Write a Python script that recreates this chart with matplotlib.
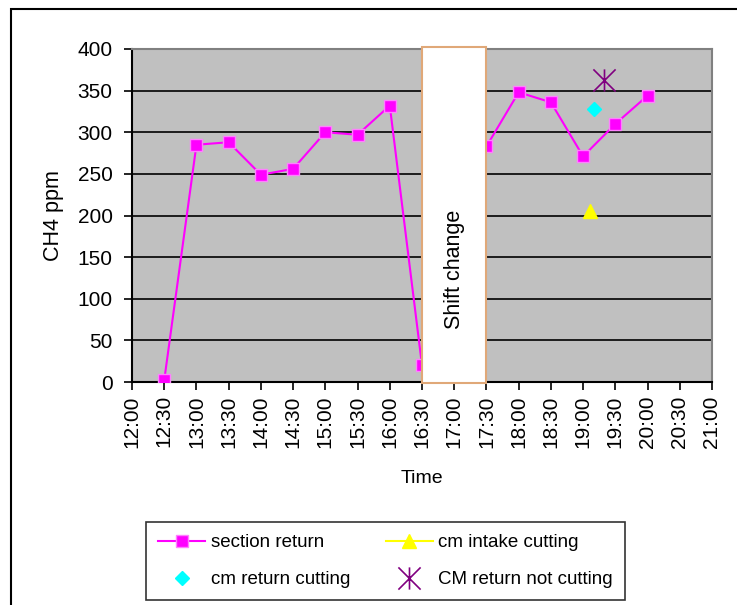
import numpy as np
import matplotlib.pyplot as plt
from matplotlib.path import Path
from matplotlib.patches import Rectangle

plt.rcParams['font.family'] = ['Liberation Sans', 'DejaVu Sans']

# methane readings (ppm) against clock time
section_times = ["12:30", "13:00", "13:30", "14:00", "14:30", "15:00", "15:30", "16:00",
                 "16:30", "17:30", "18:00", "18:30", "19:00", "19:30", "20:00"]
section_ch4 = [2, 285, 288, 249, 256, 300, 297, 332, 20, 283, 348, 336, 271, 310, 344]

intake_times = ["19:06"]
intake_ch4 = [205]

return_cut_times = ["19:10"]
return_cut_ch4 = [328]

return_idle_times = ["19:19"]
return_idle_ch4 = [363]

shift_start, shift_end = "16:30", "17:30"
tick_labels = ["%d:%02d" % (h, m) for h in range(12, 22) for m in (0, 30)][:-1]


def hours(times):
    return [int(t.split(":")[0]) + int(t.split(":")[1]) / 60 for t in times]


# asterisk marker: an X with a vertical bar through it
star = Path([(-1, -1), (1, 1), (-1, 1), (1, -1), (0, -1), (0, 1)],
            [Path.MOVETO, Path.LINETO, Path.MOVETO, Path.LINETO, Path.MOVETO, Path.LINETO])

fig = plt.figure(figsize=(7.37, 6.05), dpi=100)
ax = fig.add_axes([132 / 737, 1 - 382 / 605, 580 / 737, 333 / 605])
ax.set_facecolor('#C0C0C0')

l1, = ax.plot(hours(section_times), section_ch4, color='#FF00FF', lw=1.5, marker='s',
              markersize=8, markerfacecolor='#FF00FF', markeredgecolor='#FF80FF',
              markeredgewidth=1, label='section return', zorder=3)
l2, = ax.plot(hours(intake_times), intake_ch4, color='#FFFF00', lw=1.5, marker='^',
              markersize=10, label='cm intake cutting', zorder=3)
l3, = ax.plot(hours(return_cut_times), return_cut_ch4, ls='none', color='#00FFFF',
              marker='D', markersize=7, label='cm return cutting', zorder=3)
l4, = ax.plot(hours(return_idle_times), return_idle_ch4, ls='none', color='#800080',
              marker=star, markersize=16, markeredgewidth=1.2,
              label='CM return not cutting', zorder=3)

# shift change box sits over the series
s0, s1 = hours([shift_start, shift_end])
ax.add_patch(Rectangle((s0, -1.5), s1 - s0, 404, facecolor='white', edgecolor='#E0A878',
                       lw=1.5, zorder=5, clip_on=False))
ax.text((s0 + s1) / 2, 135, 'Shift change', rotation=90, ha='center', va='center',
        fontsize=15.5, zorder=6)

ax.set_xlim(12, 21)
ax.set_ylim(0, 400)
ax.set_xticks(np.arange(12, 21.01, 0.5))
ax.set_xticklabels(tick_labels, rotation=90, fontsize=15)
ax.set_yticks(np.arange(0, 401, 50))
ax.tick_params(axis='y', labelsize=15, length=6, width=1.2, pad=8)
ax.tick_params(axis='x', length=6, width=1.2)
ax.yaxis.grid(True, color='black', lw=1.2)
ax.set_axisbelow(True)

for side in ('left', 'bottom'):
    ax.spines[side].set_linewidth(1.5)
for side in ('top', 'right'):
    ax.spines[side].set_color('#808080')
    ax.spines[side].set_linewidth(1.5)

ax.set_xlabel('Time', fontsize=14, labelpad=16)
ax.set_ylabel('CH4 ppm', fontsize=15.5, labelpad=10)

# legend fills column-wise, so order handles to read across rows
handles = [l1, l3, l2, l4]
leg = ax.legend(handles, [h.get_label() for h in handles], ncol=2, loc='upper left',
                fontsize=13.5, frameon=True, fancybox=False,
                bbox_to_anchor=(146 / 737, 1 - 522 / 605),
                bbox_transform=fig.transFigure, handlelength=2.5,
                handletextpad=0.3, borderaxespad=0, labelspacing=1.05,
                columnspacing=1.9, borderpad=0.65)
leg.get_frame().set_edgecolor('black')
leg.get_frame().set_linewidth(1.2)

# chart area outline
fig.patches.append(Rectangle((11 / 737, -0.1), 1.1, 1 - 9 / 605 + 0.1,
                             transform=fig.transFigure, fill=False,
                             edgecolor='black', lw=1.5))

fig.savefig('out.png', dpi=100)
